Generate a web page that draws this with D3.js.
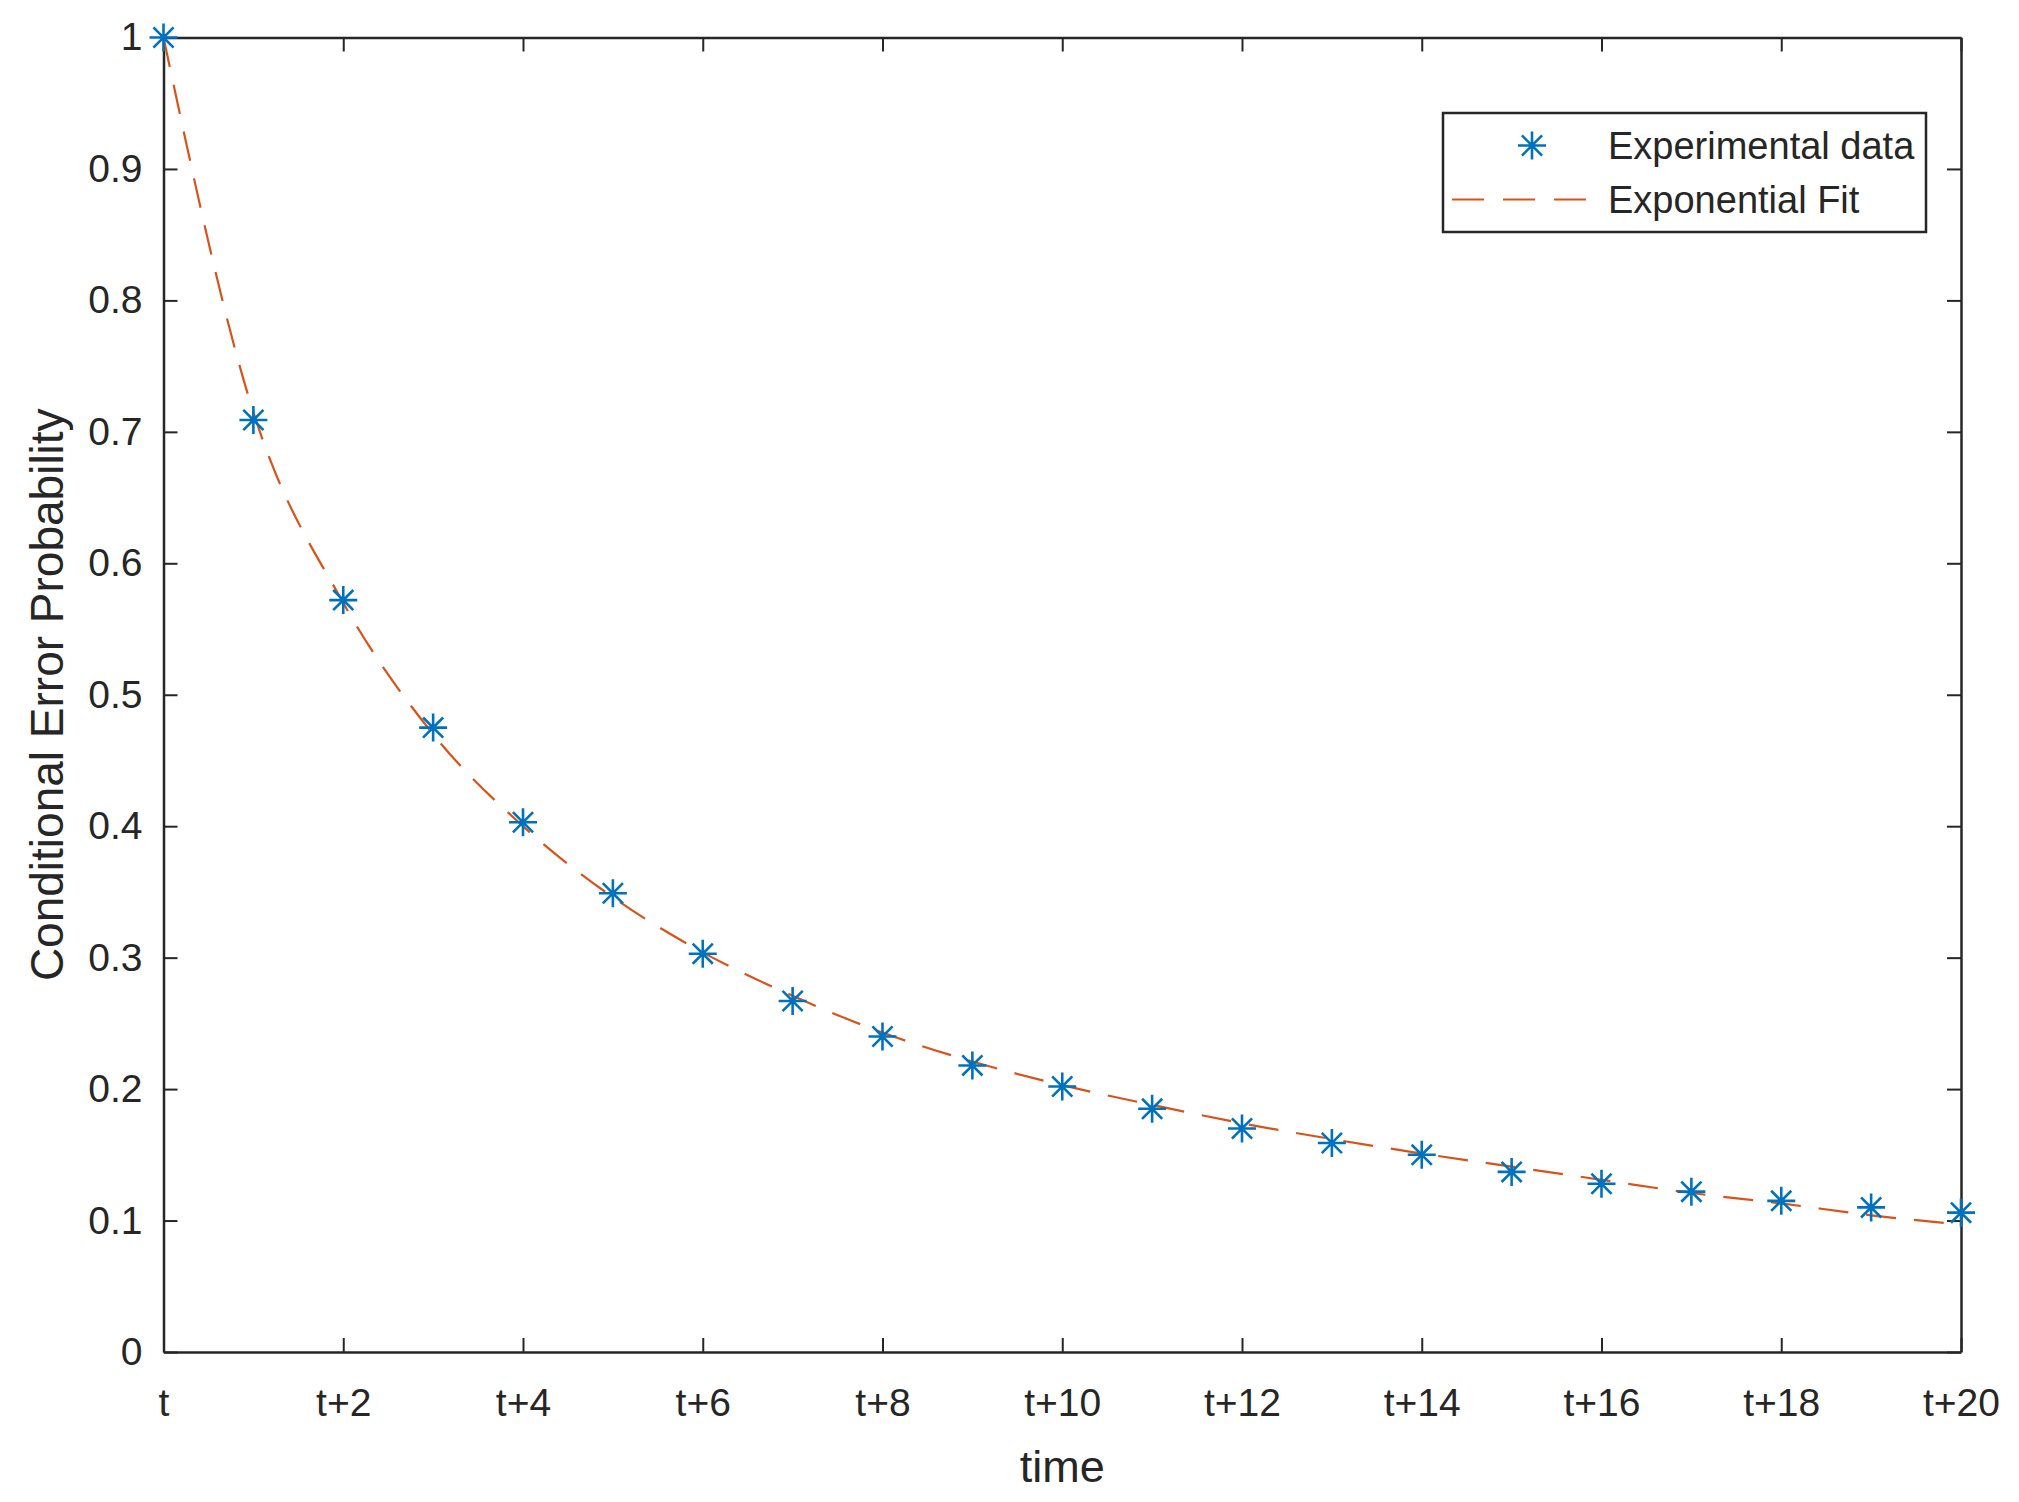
<!DOCTYPE html>
<html lang="en">
<head>
    <meta charset="UTF-8">
    <title>Conditional Error Probability</title>
    <script src="https://cdnjs.cloudflare.com/ajax/libs/d3/7.8.5/d3.min.js"></script>
    <style>
        body { margin: 0; background: #fff; }
        text { font-family: "Liberation Sans", Arial, sans-serif; fill: #262626; }
    </style>
</head>
<body>
<svg id="chart" width="2019" height="1502"></svg>
<script>
    // data
    var steps = [0, 1, 2, 3, 4, 5, 6, 7, 8, 9, 10, 11, 12, 13, 14, 15, 16, 17, 18, 19, 20];
    var experimental = [1.0, 0.709, 0.572, 0.475, 0.403, 0.349, 0.303, 0.267, 0.240, 0.218,
        0.202, 0.185, 0.170, 0.159, 0.150, 0.137, 0.128, 0.122, 0.115, 0.110, 0.106];
    var fitted = [1.0, 0.715, 0.570, 0.470, 0.400, 0.346, 0.304, 0.271, 0.243, 0.221,
        0.203, 0.188, 0.174, 0.162, 0.151, 0.141, 0.131, 0.121, 0.113, 0.104, 0.097];
    var xTicks = [0, 2, 4, 6, 8, 10, 12, 14, 16, 18, 20];
    var xTickLabels = ["t", "t+2", "t+4", "t+6", "t+8", "t+10", "t+12", "t+14", "t+16", "t+18", "t+20"];
    var yTicks = [0, 0.1, 0.2, 0.3, 0.4, 0.5, 0.6, 0.7, 0.8, 0.9, 1];
    var seriesNames = ["Experimental data", "Exponential Fit"];

    var svg = d3.select("#chart"),
        width = +svg.attr("width"),
        height = +svg.attr("height");
    var margin = {top: 37.5, right: 58, bottom: 150, left: 163.5};
    var w = width - margin.left - margin.right,
        h = height - margin.top - margin.bottom;

    var blue = "#0072BD", orange = "#D95319", axisColor = "#262626";
    var tickLen = 14;

    var x = d3.scaleLinear().domain([0, 20]).range([0, w]);
    var y = d3.scaleLinear().domain([0, 1]).range([h, 0]);

    var g = svg.append("g").attr("transform", "translate(" + margin.left + "," + margin.top + ")");

    // axes (MATLAB style box with inward ticks)
    var xAxis = d3.axisBottom(x).tickValues(xTicks).tickSizeInner(-tickLen).tickSizeOuter(0)
        .tickPadding(36).tickFormat(function (d, i) { return xTickLabels[i]; });
    var yAxis = d3.axisLeft(y).tickValues(yTicks).tickSizeInner(-tickLen).tickSizeOuter(0)
        .tickPadding(21).tickFormat(d3.format("~g"));

    g.append("g").attr("transform", "translate(0," + h + ")").call(xAxis);
    g.append("g").call(yAxis);
    g.append("g").call(d3.axisTop(x).tickValues(xTicks).tickSizeInner(-tickLen).tickSizeOuter(0).tickFormat(""));
    g.append("g").attr("transform", "translate(" + w + ",0)")
        .call(d3.axisRight(y).tickValues(yTicks).tickSizeInner(-tickLen).tickSizeOuter(0).tickFormat(""));

    g.selectAll(".domain").attr("stroke", axisColor).attr("stroke-width", 2.5);
    g.selectAll(".tick line").attr("stroke", axisColor).attr("stroke-width", 2);
    g.selectAll(".tick text").style("font-family", "Liberation Sans, Arial, sans-serif")
        .style("font-size", "39px").attr("fill", axisColor);

    // axis labels
    g.append("text")
        .attr("x", w / 2).attr("y", h + 130)
        .attr("text-anchor", "middle")
        .style("font-size", "45px")
        .text("time");
    g.append("text")
        .attr("transform", "translate(" + (63 - margin.left) + "," + (h / 2) + ") rotate(-90)")
        .attr("text-anchor", "middle")
        .style("font-size", "46px")
        .text("Conditional Error Probability");

    // fitted curve
    var line = d3.line()
        .x(function (d, i) { return x(steps[i]); })
        .y(function (d) { return y(d); })
        .curve(d3.curveMonotoneX);
    g.append("path")
        .datum(fitted)
        .attr("fill", "none")
        .attr("stroke", orange)
        .attr("stroke-width", 2.2)
        .attr("stroke-dasharray", "30,18")
        .attr("d", line);

    // asterisk marker
    function star(sel, r) {
        var d = r * 0.72;
        sel.append("path")
            .attr("d", "M" + (-r) + ",0H" + r + "M0," + (-r) + "V" + r +
                "M" + (-d) + "," + (-d) + "L" + d + "," + d + "M" + (-d) + "," + d + "L" + d + "," + (-d))
            .attr("stroke", blue)
            .attr("stroke-width", 2.6)
            .attr("fill", "none");
    }

    g.selectAll(".pt")
        .data(experimental)
        .enter()
        .append("g")
        .attr("class", "pt")
        .attr("transform", function (d, i) { return "translate(" + x(steps[i]) + "," + y(d) + ")"; })
        .call(star, 14);

    // legend
    var lg = svg.append("g").attr("transform", "translate(1443,113)");
    lg.append("rect")
        .attr("width", 483).attr("height", 119)
        .attr("fill", "#fff")
        .attr("stroke", axisColor)
        .attr("stroke-width", 2.5);
    lg.append("g").attr("transform", "translate(89,32.5)").call(star, 14);
    lg.append("line")
        .attr("x1", 9).attr("x2", 151).attr("y1", 86.5).attr("y2", 86.5)
        .attr("stroke", orange).attr("stroke-width", 2.2)
        .attr("stroke-dasharray", "32,19");
    lg.selectAll(".lt")
        .data(seriesNames)
        .enter()
        .append("text")
        .attr("class", "lt")
        .attr("x", 165)
        .attr("y", function (d, i) { return 32.5 + i * 54; })
        .attr("dy", "0.36em")
        .style("font-size", "38px")
        .text(function (d) { return d; });
</script>
</body>
</html>
